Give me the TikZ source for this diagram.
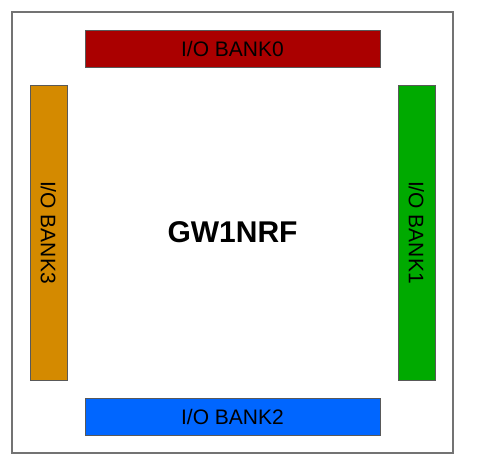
\documentclass[tikz,border=0pt]{standalone}
\usepackage{fontspec}
\setmainfont{Liberation Sans}
\usepackage{tikz}
\definecolor{bankred}{HTML}{AA0000}
\definecolor{bankorange}{HTML}{D48A00}
\definecolor{bankgreen}{HTML}{00AA00}
\definecolor{bankblue}{HTML}{0066FF}
\tikzset{
	bank/.style={draw=black!65, line width=0.8pt, inner sep=0pt, font=\fontsize{21}{24}\selectfont},
	hbank/.style={bank, minimum width=295pt, minimum height=37pt},
	vbank/.style={bank, minimum width=37pt, minimum height=295pt}
}
\begin{document}
\begin{tikzpicture}[x=1pt, y=-1pt]
		\useasboundingbox (0,0) rectangle (483,474);
		\draw[black!55, line width=1.2pt] (12,12) rectangle (453,453);
		\node[hbank, fill=bankred] (bank0) at (232.5,48.5) {I/O BANK0};
		\node[vbank, fill=bankgreen] (bank1) at (416.5,232.5) {\rotatebox{-90}{I/O BANK1}};
		\node[hbank, fill=bankblue] (bank2) at (232.5,416.5) {I/O BANK2};
		\node[vbank, fill=bankorange] (bank3) at (48.5,232.5) {\rotatebox{-90}{I/O BANK3}};
		\node[font=\fontsize{30}{35}\selectfont\bfseries] (chip) at (232.5,232.5) {GW1NRF};
	\end{tikzpicture}
\end{document}
